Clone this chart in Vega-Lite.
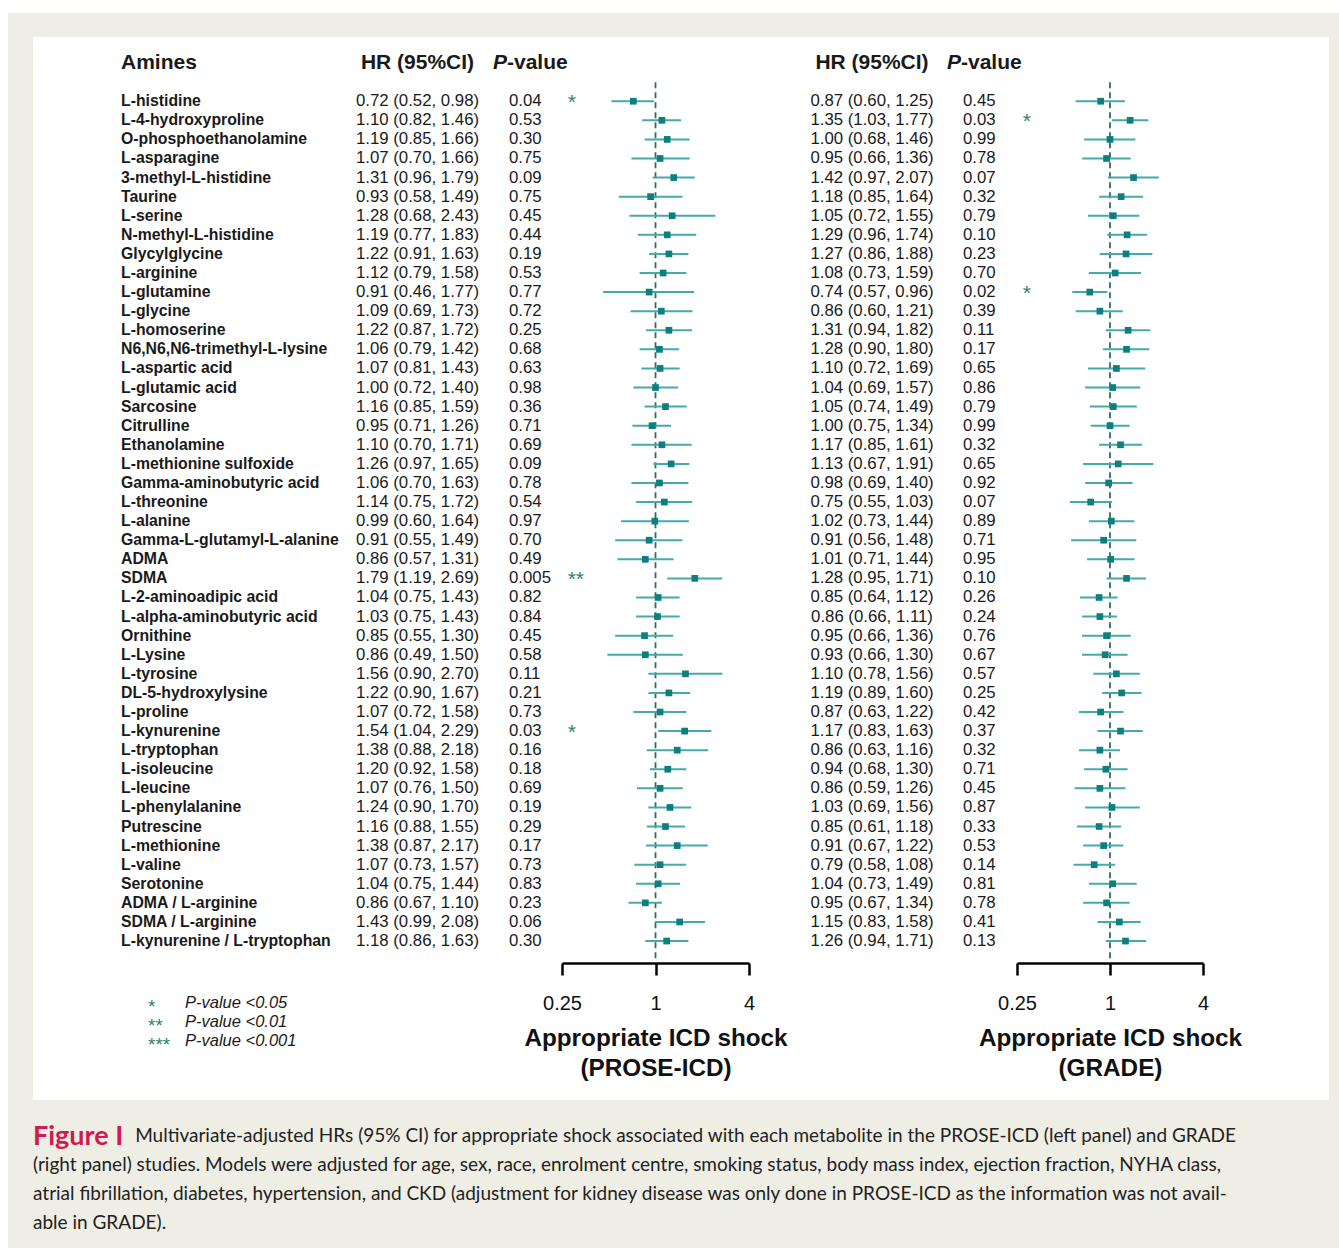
{
  "$schema": "https://vega.github.io/schema/vega-lite/v6.json",
  "background": "white",
  "padding": {"left": 8, "top": 13, "right": 0, "bottom": 0},
  "config": {"view": {"stroke": null}, "text": {"font": "Liberation Sans"}},
  "datasets": {
    "rows": [
      {"name":"L-histidine","txt1":"0.72 (0.52, 0.98)","est1":0.72,"lo1":0.52,"hi1":0.98,"p1":"0.04","sig1":"*","txt2":"0.87 (0.60, 1.25)","est2":0.87,"lo2":0.60,"hi2":1.25,"p2":"0.45","sig2":""},
      {"name":"L-4-hydroxyproline","txt1":"1.10 (0.82, 1.46)","est1":1.10,"lo1":0.82,"hi1":1.46,"p1":"0.53","sig1":"","txt2":"1.35 (1.03, 1.77)","est2":1.35,"lo2":1.03,"hi2":1.77,"p2":"0.03","sig2":"*"},
      {"name":"O-phosphoethanolamine","txt1":"1.19 (0.85, 1.66)","est1":1.19,"lo1":0.85,"hi1":1.66,"p1":"0.30","sig1":"","txt2":"1.00 (0.68, 1.46)","est2":1.00,"lo2":0.68,"hi2":1.46,"p2":"0.99","sig2":""},
      {"name":"L-asparagine","txt1":"1.07 (0.70, 1.66)","est1":1.07,"lo1":0.70,"hi1":1.66,"p1":"0.75","sig1":"","txt2":"0.95 (0.66, 1.36)","est2":0.95,"lo2":0.66,"hi2":1.36,"p2":"0.78","sig2":""},
      {"name":"3-methyl-L-histidine","txt1":"1.31 (0.96, 1.79)","est1":1.31,"lo1":0.96,"hi1":1.79,"p1":"0.09","sig1":"","txt2":"1.42 (0.97, 2.07)","est2":1.42,"lo2":0.97,"hi2":2.07,"p2":"0.07","sig2":""},
      {"name":"Taurine","txt1":"0.93 (0.58, 1.49)","est1":0.93,"lo1":0.58,"hi1":1.49,"p1":"0.75","sig1":"","txt2":"1.18 (0.85, 1.64)","est2":1.18,"lo2":0.85,"hi2":1.64,"p2":"0.32","sig2":""},
      {"name":"L-serine","txt1":"1.28 (0.68, 2.43)","est1":1.28,"lo1":0.68,"hi1":2.43,"p1":"0.45","sig1":"","txt2":"1.05 (0.72, 1.55)","est2":1.05,"lo2":0.72,"hi2":1.55,"p2":"0.79","sig2":""},
      {"name":"N-methyl-L-histidine","txt1":"1.19 (0.77, 1.83)","est1":1.19,"lo1":0.77,"hi1":1.83,"p1":"0.44","sig1":"","txt2":"1.29 (0.96, 1.74)","est2":1.29,"lo2":0.96,"hi2":1.74,"p2":"0.10","sig2":""},
      {"name":"Glycylglycine","txt1":"1.22 (0.91, 1.63)","est1":1.22,"lo1":0.91,"hi1":1.63,"p1":"0.19","sig1":"","txt2":"1.27 (0.86, 1.88)","est2":1.27,"lo2":0.86,"hi2":1.88,"p2":"0.23","sig2":""},
      {"name":"L-arginine","txt1":"1.12 (0.79, 1.58)","est1":1.12,"lo1":0.79,"hi1":1.58,"p1":"0.53","sig1":"","txt2":"1.08 (0.73, 1.59)","est2":1.08,"lo2":0.73,"hi2":1.59,"p2":"0.70","sig2":""},
      {"name":"L-glutamine","txt1":"0.91 (0.46, 1.77)","est1":0.91,"lo1":0.46,"hi1":1.77,"p1":"0.77","sig1":"","txt2":"0.74 (0.57, 0.96)","est2":0.74,"lo2":0.57,"hi2":0.96,"p2":"0.02","sig2":"*"},
      {"name":"L-glycine","txt1":"1.09 (0.69, 1.73)","est1":1.09,"lo1":0.69,"hi1":1.73,"p1":"0.72","sig1":"","txt2":"0.86 (0.60, 1.21)","est2":0.86,"lo2":0.60,"hi2":1.21,"p2":"0.39","sig2":""},
      {"name":"L-homoserine","txt1":"1.22 (0.87, 1.72)","est1":1.22,"lo1":0.87,"hi1":1.72,"p1":"0.25","sig1":"","txt2":"1.31 (0.94, 1.82)","est2":1.31,"lo2":0.94,"hi2":1.82,"p2":"0.11","sig2":""},
      {"name":"N6,N6,N6-trimethyl-L-lysine","txt1":"1.06 (0.79, 1.42)","est1":1.06,"lo1":0.79,"hi1":1.42,"p1":"0.68","sig1":"","txt2":"1.28 (0.90, 1.80)","est2":1.28,"lo2":0.90,"hi2":1.80,"p2":"0.17","sig2":""},
      {"name":"L-aspartic acid","txt1":"1.07 (0.81, 1.43)","est1":1.07,"lo1":0.81,"hi1":1.43,"p1":"0.63","sig1":"","txt2":"1.10 (0.72, 1.69)","est2":1.10,"lo2":0.72,"hi2":1.69,"p2":"0.65","sig2":""},
      {"name":"L-glutamic acid","txt1":"1.00 (0.72, 1.40)","est1":1.00,"lo1":0.72,"hi1":1.40,"p1":"0.98","sig1":"","txt2":"1.04 (0.69, 1.57)","est2":1.04,"lo2":0.69,"hi2":1.57,"p2":"0.86","sig2":""},
      {"name":"Sarcosine","txt1":"1.16 (0.85, 1.59)","est1":1.16,"lo1":0.85,"hi1":1.59,"p1":"0.36","sig1":"","txt2":"1.05 (0.74, 1.49)","est2":1.05,"lo2":0.74,"hi2":1.49,"p2":"0.79","sig2":""},
      {"name":"Citrulline","txt1":"0.95 (0.71, 1.26)","est1":0.95,"lo1":0.71,"hi1":1.26,"p1":"0.71","sig1":"","txt2":"1.00 (0.75, 1.34)","est2":1.00,"lo2":0.75,"hi2":1.34,"p2":"0.99","sig2":""},
      {"name":"Ethanolamine","txt1":"1.10 (0.70, 1.71)","est1":1.10,"lo1":0.70,"hi1":1.71,"p1":"0.69","sig1":"","txt2":"1.17 (0.85, 1.61)","est2":1.17,"lo2":0.85,"hi2":1.61,"p2":"0.32","sig2":""},
      {"name":"L-methionine sulfoxide","txt1":"1.26 (0.97, 1.65)","est1":1.26,"lo1":0.97,"hi1":1.65,"p1":"0.09","sig1":"","txt2":"1.13 (0.67, 1.91)","est2":1.13,"lo2":0.67,"hi2":1.91,"p2":"0.65","sig2":""},
      {"name":"Gamma-aminobutyric acid","txt1":"1.06 (0.70, 1.63)","est1":1.06,"lo1":0.70,"hi1":1.63,"p1":"0.78","sig1":"","txt2":"0.98 (0.69, 1.40)","est2":0.98,"lo2":0.69,"hi2":1.40,"p2":"0.92","sig2":""},
      {"name":"L-threonine","txt1":"1.14 (0.75, 1.72)","est1":1.14,"lo1":0.75,"hi1":1.72,"p1":"0.54","sig1":"","txt2":"0.75 (0.55, 1.03)","est2":0.75,"lo2":0.55,"hi2":1.03,"p2":"0.07","sig2":""},
      {"name":"L-alanine","txt1":"0.99 (0.60, 1.64)","est1":0.99,"lo1":0.60,"hi1":1.64,"p1":"0.97","sig1":"","txt2":"1.02 (0.73, 1.44)","est2":1.02,"lo2":0.73,"hi2":1.44,"p2":"0.89","sig2":""},
      {"name":"Gamma-L-glutamyl-L-alanine","txt1":"0.91 (0.55, 1.49)","est1":0.91,"lo1":0.55,"hi1":1.49,"p1":"0.70","sig1":"","txt2":"0.91 (0.56, 1.48)","est2":0.91,"lo2":0.56,"hi2":1.48,"p2":"0.71","sig2":""},
      {"name":"ADMA","txt1":"0.86 (0.57, 1.31)","est1":0.86,"lo1":0.57,"hi1":1.31,"p1":"0.49","sig1":"","txt2":"1.01 (0.71, 1.44)","est2":1.01,"lo2":0.71,"hi2":1.44,"p2":"0.95","sig2":""},
      {"name":"SDMA","txt1":"1.79 (1.19, 2.69)","est1":1.79,"lo1":1.19,"hi1":2.69,"p1":"0.005","sig1":"**","txt2":"1.28 (0.95, 1.71)","est2":1.28,"lo2":0.95,"hi2":1.71,"p2":"0.10","sig2":""},
      {"name":"L-2-aminoadipic acid","txt1":"1.04 (0.75, 1.43)","est1":1.04,"lo1":0.75,"hi1":1.43,"p1":"0.82","sig1":"","txt2":"0.85 (0.64, 1.12)","est2":0.85,"lo2":0.64,"hi2":1.12,"p2":"0.26","sig2":""},
      {"name":"L-alpha-aminobutyric acid","txt1":"1.03 (0.75, 1.43)","est1":1.03,"lo1":0.75,"hi1":1.43,"p1":"0.84","sig1":"","txt2":"0.86 (0.66, 1.11)","est2":0.86,"lo2":0.66,"hi2":1.11,"p2":"0.24","sig2":""},
      {"name":"Ornithine","txt1":"0.85 (0.55, 1.30)","est1":0.85,"lo1":0.55,"hi1":1.30,"p1":"0.45","sig1":"","txt2":"0.95 (0.66, 1.36)","est2":0.95,"lo2":0.66,"hi2":1.36,"p2":"0.76","sig2":""},
      {"name":"L-Lysine","txt1":"0.86 (0.49, 1.50)","est1":0.86,"lo1":0.49,"hi1":1.50,"p1":"0.58","sig1":"","txt2":"0.93 (0.66, 1.30)","est2":0.93,"lo2":0.66,"hi2":1.30,"p2":"0.67","sig2":""},
      {"name":"L-tyrosine","txt1":"1.56 (0.90, 2.70)","est1":1.56,"lo1":0.90,"hi1":2.70,"p1":"0.11","sig1":"","txt2":"1.10 (0.78, 1.56)","est2":1.10,"lo2":0.78,"hi2":1.56,"p2":"0.57","sig2":""},
      {"name":"DL-5-hydroxylysine","txt1":"1.22 (0.90, 1.67)","est1":1.22,"lo1":0.90,"hi1":1.67,"p1":"0.21","sig1":"","txt2":"1.19 (0.89, 1.60)","est2":1.19,"lo2":0.89,"hi2":1.60,"p2":"0.25","sig2":""},
      {"name":"L-proline","txt1":"1.07 (0.72, 1.58)","est1":1.07,"lo1":0.72,"hi1":1.58,"p1":"0.73","sig1":"","txt2":"0.87 (0.63, 1.22)","est2":0.87,"lo2":0.63,"hi2":1.22,"p2":"0.42","sig2":""},
      {"name":"L-kynurenine","txt1":"1.54 (1.04, 2.29)","est1":1.54,"lo1":1.04,"hi1":2.29,"p1":"0.03","sig1":"*","txt2":"1.17 (0.83, 1.63)","est2":1.17,"lo2":0.83,"hi2":1.63,"p2":"0.37","sig2":""},
      {"name":"L-tryptophan","txt1":"1.38 (0.88, 2.18)","est1":1.38,"lo1":0.88,"hi1":2.18,"p1":"0.16","sig1":"","txt2":"0.86 (0.63, 1.16)","est2":0.86,"lo2":0.63,"hi2":1.16,"p2":"0.32","sig2":""},
      {"name":"L-isoleucine","txt1":"1.20 (0.92, 1.58)","est1":1.20,"lo1":0.92,"hi1":1.58,"p1":"0.18","sig1":"","txt2":"0.94 (0.68, 1.30)","est2":0.94,"lo2":0.68,"hi2":1.30,"p2":"0.71","sig2":""},
      {"name":"L-leucine","txt1":"1.07 (0.76, 1.50)","est1":1.07,"lo1":0.76,"hi1":1.50,"p1":"0.69","sig1":"","txt2":"0.86 (0.59, 1.26)","est2":0.86,"lo2":0.59,"hi2":1.26,"p2":"0.45","sig2":""},
      {"name":"L-phenylalanine","txt1":"1.24 (0.90, 1.70)","est1":1.24,"lo1":0.90,"hi1":1.70,"p1":"0.19","sig1":"","txt2":"1.03 (0.69, 1.56)","est2":1.03,"lo2":0.69,"hi2":1.56,"p2":"0.87","sig2":""},
      {"name":"Putrescine","txt1":"1.16 (0.88, 1.55)","est1":1.16,"lo1":0.88,"hi1":1.55,"p1":"0.29","sig1":"","txt2":"0.85 (0.61, 1.18)","est2":0.85,"lo2":0.61,"hi2":1.18,"p2":"0.33","sig2":""},
      {"name":"L-methionine","txt1":"1.38 (0.87, 2.17)","est1":1.38,"lo1":0.87,"hi1":2.17,"p1":"0.17","sig1":"","txt2":"0.91 (0.67, 1.22)","est2":0.91,"lo2":0.67,"hi2":1.22,"p2":"0.53","sig2":""},
      {"name":"L-valine","txt1":"1.07 (0.73, 1.57)","est1":1.07,"lo1":0.73,"hi1":1.57,"p1":"0.73","sig1":"","txt2":"0.79 (0.58, 1.08)","est2":0.79,"lo2":0.58,"hi2":1.08,"p2":"0.14","sig2":""},
      {"name":"Serotonine","txt1":"1.04 (0.75, 1.44)","est1":1.04,"lo1":0.75,"hi1":1.44,"p1":"0.83","sig1":"","txt2":"1.04 (0.73, 1.49)","est2":1.04,"lo2":0.73,"hi2":1.49,"p2":"0.81","sig2":""},
      {"name":"ADMA / L-arginine","txt1":"0.86 (0.67, 1.10)","est1":0.86,"lo1":0.67,"hi1":1.10,"p1":"0.23","sig1":"","txt2":"0.95 (0.67, 1.34)","est2":0.95,"lo2":0.67,"hi2":1.34,"p2":"0.78","sig2":""},
      {"name":"SDMA / L-arginine","txt1":"1.43 (0.99, 2.08)","est1":1.43,"lo1":0.99,"hi1":2.08,"p1":"0.06","sig1":"","txt2":"1.15 (0.83, 1.58)","est2":1.15,"lo2":0.83,"hi2":1.58,"p2":"0.41","sig2":""},
      {"name":"L-kynurenine / L-tryptophan","txt1":"1.18 (0.86, 1.63)","est1":1.18,"lo1":0.86,"hi1":1.63,"p1":"0.30","sig1":"","txt2":"1.26 (0.94, 1.71)","est2":1.26,"lo2":0.94,"hi2":1.71,"p2":"0.13","sig2":""}
    ],
    "legend": [
      {"key":"leg1","stars":"*","label":"P-value <0.05"},
      {"key":"leg2","stars":"**","label":"P-value <0.01"},
      {"key":"leg3","stars":"***","label":"P-value <0.001"}
    ]
  },
  "data": {"name": "rows"},
  "spacing": 0,
  "bounds": "full",
  "vconcat": [
    {"width": 1331, "height": 24, "view": {"fill": "#efeee5"}, "data": {"values": []}, "mark": "text"},
    {
      "spacing": 0,
      "bounds": "flush",
      "resolve": {"scale": {"x": "independent", "y": "independent"}},
      "hconcat": [
        {"width": 25, "height": 1063, "view": {"fill": "#efeee5"}, "data": {"values": []}, "mark": "text"},
        {
          "width": 176, "height": 1063,
          "layer": [
            {"mark": {"type": "text", "align": "left", "baseline": "middle", "font": "Liberation Sans", "fontWeight": "bold", "fontSize": 15.8, "color": "#1a1a1a"},
             "encoding": {"y": {"field": "name", "type": "nominal", "axis": null, "scale": {"type": "point", "padding": 0.847, "align": 0.806, "domain": ["__hdr","__gap","L-histidine","L-4-hydroxyproline","O-phosphoethanolamine","L-asparagine","3-methyl-L-histidine","Taurine","L-serine","N-methyl-L-histidine","Glycylglycine","L-arginine","L-glutamine","L-glycine","L-homoserine","N6,N6,N6-trimethyl-L-lysine","L-aspartic acid","L-glutamic acid","Sarcosine","Citrulline","Ethanolamine","L-methionine sulfoxide","Gamma-aminobutyric acid","L-threonine","L-alanine","Gamma-L-glutamyl-L-alanine","ADMA","SDMA","L-2-aminoadipic acid","L-alpha-aminobutyric acid","Ornithine","L-Lysine","L-tyrosine","DL-5-hydroxylysine","L-proline","L-kynurenine","L-tryptophan","L-isoleucine","L-leucine","L-phenylalanine","Putrescine","L-methionine","L-valine","Serotonine","ADMA / L-arginine","SDMA / L-arginine","L-kynurenine / L-tryptophan","__axis","__b2","leg1","leg2","leg3","__e1","__e2","__e3"]}},
                          "text": {"field": "name"}}},
            {"data": {"values": [{"h": "Amines"}]},
             "mark": {"type": "text", "align": "left", "baseline": "middle", "font": "Liberation Sans", "fontWeight": "bold", "fontSize": 21, "color": "#1a1a1a"},
             "encoding": {"y": {"datum": "__hdr", "type": "nominal"}, "text": {"field": "h"}}},
            {"data": {"name": "legend"},
             "mark": {"type": "text", "align": "left", "baseline": "middle", "dx": 27, "dy": 9, "font": "Liberation Sans", "fontSize": 19, "color": "#2f8565"},
             "encoding": {"y": {"field": "key", "type": "nominal"}, "text": {"field": "stars"}}},
            {"data": {"name": "legend"},
             "mark": {"type": "text", "align": "left", "baseline": "middle", "dx": 64, "dy": 5, "font": "Liberation Sans", "fontStyle": "italic", "fontSize": 16.5, "color": "#1a1a1a"},
             "encoding": {"y": {"field": "key", "type": "nominal"}, "text": {"field": "label"}}}
          ]
        },
        {"width": 170, "height": 1063, "data": {"values": []}, "mark": "text"},
        {
          "width": 77, "height": 1063,
          "layer": [
            {"mark": {"type": "text", "align": "center", "baseline": "middle", "font": "Liberation Sans", "fontSize": 16.8, "color": "#1a1a1a"},
             "encoding": {"y": {"field": "name", "type": "nominal", "axis": null, "scale": {"type": "point", "padding": 0.847, "align": 0.806, "domain": ["__hdr","__gap","L-histidine","L-4-hydroxyproline","O-phosphoethanolamine","L-asparagine","3-methyl-L-histidine","Taurine","L-serine","N-methyl-L-histidine","Glycylglycine","L-arginine","L-glutamine","L-glycine","L-homoserine","N6,N6,N6-trimethyl-L-lysine","L-aspartic acid","L-glutamic acid","Sarcosine","Citrulline","Ethanolamine","L-methionine sulfoxide","Gamma-aminobutyric acid","L-threonine","L-alanine","Gamma-L-glutamyl-L-alanine","ADMA","SDMA","L-2-aminoadipic acid","L-alpha-aminobutyric acid","Ornithine","L-Lysine","L-tyrosine","DL-5-hydroxylysine","L-proline","L-kynurenine","L-tryptophan","L-isoleucine","L-leucine","L-phenylalanine","Putrescine","L-methionine","L-valine","Serotonine","ADMA / L-arginine","SDMA / L-arginine","L-kynurenine / L-tryptophan","__axis","__b2","leg1","leg2","leg3","__e1","__e2","__e3"]}},
                          "text": {"field": "txt1"}}},
            {"data": {"values": [{"h": "HR (95%CI)"}]},
             "mark": {"type": "text", "align": "center", "baseline": "middle", "font": "Liberation Sans", "fontWeight": "bold", "fontSize": 21, "color": "#1a1a1a"},
             "encoding": {"y": {"datum": "__hdr", "type": "nominal"}, "text": {"field": "h"}}}
          ]
        },
        {
          "width": 106, "height": 1063,
          "layer": [
            {"mark": {"type": "text", "align": "left", "baseline": "middle", "font": "Liberation Sans", "fontSize": 16.8, "color": "#1a1a1a"},
             "encoding": {"y": {"field": "name", "type": "nominal", "axis": null, "scale": {"type": "point", "padding": 0.847, "align": 0.806, "domain": ["__hdr","__gap","L-histidine","L-4-hydroxyproline","O-phosphoethanolamine","L-asparagine","3-methyl-L-histidine","Taurine","L-serine","N-methyl-L-histidine","Glycylglycine","L-arginine","L-glutamine","L-glycine","L-homoserine","N6,N6,N6-trimethyl-L-lysine","L-aspartic acid","L-glutamic acid","Sarcosine","Citrulline","Ethanolamine","L-methionine sulfoxide","Gamma-aminobutyric acid","L-threonine","L-alanine","Gamma-L-glutamyl-L-alanine","ADMA","SDMA","L-2-aminoadipic acid","L-alpha-aminobutyric acid","Ornithine","L-Lysine","L-tyrosine","DL-5-hydroxylysine","L-proline","L-kynurenine","L-tryptophan","L-isoleucine","L-leucine","L-phenylalanine","Putrescine","L-methionine","L-valine","Serotonine","ADMA / L-arginine","SDMA / L-arginine","L-kynurenine / L-tryptophan","__axis","__b2","leg1","leg2","leg3","__e1","__e2","__e3"]}},
                          "text": {"field": "p1"}}},
            {"data": {"values": [{"h": "P"}]},
             "mark": {"type": "text", "align": "right", "baseline": "middle", "dx": -2, "font": "Liberation Sans", "fontWeight": "bold", "fontStyle": "italic", "fontSize": 21, "color": "#1a1a1a"},
             "encoding": {"y": {"datum": "__hdr", "type": "nominal"}, "text": {"field": "h"}}},
            {"data": {"values": [{"h": "-value"}]},
             "mark": {"type": "text", "align": "left", "baseline": "middle", "dx": -2, "font": "Liberation Sans", "fontWeight": "bold", "fontSize": 21, "color": "#1a1a1a"},
             "encoding": {"y": {"datum": "__hdr", "type": "nominal"}, "text": {"field": "h"}}}
          ]
        },
        {
          "width": 187, "height": 1063,
          "layer": [
            {"data": {"values": [{"ref": 1}]},
             "mark": {"type": "rule", "strokeDash": [6, 4], "strokeWidth": 1.8, "color": "#2e6e5e", "y2Offset": 3},
             "encoding": {
               "x": {"field": "ref", "type": "quantitative", "scale": {"type": "log", "domain": [0.25, 4], "nice": false},
                     "axis": {"values": [0.25, 1, 4], "format": "~g", "orient": "bottom", "offset": -137, "grid": false, "domainColor": "#000", "domainWidth": 2.5, "tickColor": "#000", "tickWidth": 2.5, "tickSize": 12, "labelFont": "Liberation Sans", "labelFontSize": 20, "labelColor": "#111", "labelPadding": 18, "labelFlush": false, "labelOverlap": false, "title": ["Appropriate ICD shock", "(PROSE-ICD)"], "titleFont": "Liberation Sans", "titleFontSize": 24.3, "titleFontWeight": "bold", "titleColor": "#111", "titlePadding": 13, "titleLineHeight": 30}},
               "y": {"datum": "__gap", "type": "nominal", "axis": null, "scale": {"type": "point", "padding": 0.847, "align": 0.806, "domain": ["__hdr","__gap","L-histidine","L-4-hydroxyproline","O-phosphoethanolamine","L-asparagine","3-methyl-L-histidine","Taurine","L-serine","N-methyl-L-histidine","Glycylglycine","L-arginine","L-glutamine","L-glycine","L-homoserine","N6,N6,N6-trimethyl-L-lysine","L-aspartic acid","L-glutamic acid","Sarcosine","Citrulline","Ethanolamine","L-methionine sulfoxide","Gamma-aminobutyric acid","L-threonine","L-alanine","Gamma-L-glutamyl-L-alanine","ADMA","SDMA","L-2-aminoadipic acid","L-alpha-aminobutyric acid","Ornithine","L-Lysine","L-tyrosine","DL-5-hydroxylysine","L-proline","L-kynurenine","L-tryptophan","L-isoleucine","L-leucine","L-phenylalanine","Putrescine","L-methionine","L-valine","Serotonine","ADMA / L-arginine","SDMA / L-arginine","L-kynurenine / L-tryptophan","__axis","__b2","leg1","leg2","leg3","__e1","__e2","__e3"]}},
               "y2": {"datum": "__axis"}}},
            {"mark": {"type": "rule", "strokeWidth": 2, "color": "#45aaab"},
             "encoding": {"x": {"field": "lo1", "type": "quantitative"}, "x2": {"field": "hi1"}, "y": {"field": "name", "type": "nominal"}}},
            {"mark": {"type": "point", "shape": "square", "filled": true, "size": 45, "opacity": 1, "color": "#0e7f80"},
             "encoding": {"x": {"field": "est1", "type": "quantitative"}, "y": {"field": "name", "type": "nominal"}}},
            {"mark": {"type": "text", "align": "left", "baseline": "middle", "dy": 2, "font": "Liberation Sans", "fontSize": 21, "color": "#2f8565"},
             "encoding": {"x": {"datum": 0.272, "type": "quantitative"}, "y": {"field": "name", "type": "nominal"}, "text": {"field": "sig1"}}}
          ]
        },
        {"width": 86, "height": 1063, "data": {"values": []}, "mark": "text"},
        {
          "width": 74, "height": 1063,
          "layer": [
            {"mark": {"type": "text", "align": "center", "baseline": "middle", "font": "Liberation Sans", "fontSize": 16.8, "color": "#1a1a1a"},
             "encoding": {"y": {"field": "name", "type": "nominal", "axis": null, "scale": {"type": "point", "padding": 0.847, "align": 0.806, "domain": ["__hdr","__gap","L-histidine","L-4-hydroxyproline","O-phosphoethanolamine","L-asparagine","3-methyl-L-histidine","Taurine","L-serine","N-methyl-L-histidine","Glycylglycine","L-arginine","L-glutamine","L-glycine","L-homoserine","N6,N6,N6-trimethyl-L-lysine","L-aspartic acid","L-glutamic acid","Sarcosine","Citrulline","Ethanolamine","L-methionine sulfoxide","Gamma-aminobutyric acid","L-threonine","L-alanine","Gamma-L-glutamyl-L-alanine","ADMA","SDMA","L-2-aminoadipic acid","L-alpha-aminobutyric acid","Ornithine","L-Lysine","L-tyrosine","DL-5-hydroxylysine","L-proline","L-kynurenine","L-tryptophan","L-isoleucine","L-leucine","L-phenylalanine","Putrescine","L-methionine","L-valine","Serotonine","ADMA / L-arginine","SDMA / L-arginine","L-kynurenine / L-tryptophan","__axis","__b2","leg1","leg2","leg3","__e1","__e2","__e3"]}},
                          "text": {"field": "txt2"}}},
            {"data": {"values": [{"h": "HR (95%CI)"}]},
             "mark": {"type": "text", "align": "center", "baseline": "middle", "font": "Liberation Sans", "fontWeight": "bold", "fontSize": 21, "color": "#1a1a1a"},
             "encoding": {"y": {"datum": "__hdr", "type": "nominal"}, "text": {"field": "h"}}}
          ]
        },
        {
          "width": 108, "height": 1063,
          "layer": [
            {"mark": {"type": "text", "align": "left", "baseline": "middle", "font": "Liberation Sans", "fontSize": 16.8, "color": "#1a1a1a"},
             "encoding": {"y": {"field": "name", "type": "nominal", "axis": null, "scale": {"type": "point", "padding": 0.847, "align": 0.806, "domain": ["__hdr","__gap","L-histidine","L-4-hydroxyproline","O-phosphoethanolamine","L-asparagine","3-methyl-L-histidine","Taurine","L-serine","N-methyl-L-histidine","Glycylglycine","L-arginine","L-glutamine","L-glycine","L-homoserine","N6,N6,N6-trimethyl-L-lysine","L-aspartic acid","L-glutamic acid","Sarcosine","Citrulline","Ethanolamine","L-methionine sulfoxide","Gamma-aminobutyric acid","L-threonine","L-alanine","Gamma-L-glutamyl-L-alanine","ADMA","SDMA","L-2-aminoadipic acid","L-alpha-aminobutyric acid","Ornithine","L-Lysine","L-tyrosine","DL-5-hydroxylysine","L-proline","L-kynurenine","L-tryptophan","L-isoleucine","L-leucine","L-phenylalanine","Putrescine","L-methionine","L-valine","Serotonine","ADMA / L-arginine","SDMA / L-arginine","L-kynurenine / L-tryptophan","__axis","__b2","leg1","leg2","leg3","__e1","__e2","__e3"]}},
                          "text": {"field": "p2"}}},
            {"data": {"values": [{"h": "P"}]},
             "mark": {"type": "text", "align": "right", "baseline": "middle", "dx": -2, "font": "Liberation Sans", "fontWeight": "bold", "fontStyle": "italic", "fontSize": 21, "color": "#1a1a1a"},
             "encoding": {"y": {"datum": "__hdr", "type": "nominal"}, "text": {"field": "h"}}},
            {"data": {"values": [{"h": "-value"}]},
             "mark": {"type": "text", "align": "left", "baseline": "middle", "dx": -2, "font": "Liberation Sans", "fontWeight": "bold", "fontSize": 21, "color": "#1a1a1a"},
             "encoding": {"y": {"datum": "__hdr", "type": "nominal"}, "text": {"field": "h"}}}
          ]
        },
        {
          "width": 186, "height": 1063,
          "layer": [
            {"data": {"values": [{"ref": 1}]},
             "mark": {"type": "rule", "strokeDash": [6, 4], "strokeWidth": 1.8, "color": "#2e6e5e", "y2Offset": 3},
             "encoding": {
               "x": {"field": "ref", "type": "quantitative", "scale": {"type": "log", "domain": [0.25, 4], "nice": false},
                     "axis": {"values": [0.25, 1, 4], "format": "~g", "orient": "bottom", "offset": -137, "grid": false, "domainColor": "#000", "domainWidth": 2.5, "tickColor": "#000", "tickWidth": 2.5, "tickSize": 12, "labelFont": "Liberation Sans", "labelFontSize": 20, "labelColor": "#111", "labelPadding": 18, "labelFlush": false, "labelOverlap": false, "title": ["Appropriate ICD shock", "(GRADE)"], "titleFont": "Liberation Sans", "titleFontSize": 24.3, "titleFontWeight": "bold", "titleColor": "#111", "titlePadding": 13, "titleLineHeight": 30}},
               "y": {"datum": "__gap", "type": "nominal", "axis": null, "scale": {"type": "point", "padding": 0.847, "align": 0.806, "domain": ["__hdr","__gap","L-histidine","L-4-hydroxyproline","O-phosphoethanolamine","L-asparagine","3-methyl-L-histidine","Taurine","L-serine","N-methyl-L-histidine","Glycylglycine","L-arginine","L-glutamine","L-glycine","L-homoserine","N6,N6,N6-trimethyl-L-lysine","L-aspartic acid","L-glutamic acid","Sarcosine","Citrulline","Ethanolamine","L-methionine sulfoxide","Gamma-aminobutyric acid","L-threonine","L-alanine","Gamma-L-glutamyl-L-alanine","ADMA","SDMA","L-2-aminoadipic acid","L-alpha-aminobutyric acid","Ornithine","L-Lysine","L-tyrosine","DL-5-hydroxylysine","L-proline","L-kynurenine","L-tryptophan","L-isoleucine","L-leucine","L-phenylalanine","Putrescine","L-methionine","L-valine","Serotonine","ADMA / L-arginine","SDMA / L-arginine","L-kynurenine / L-tryptophan","__axis","__b2","leg1","leg2","leg3","__e1","__e2","__e3"]}},
               "y2": {"datum": "__axis"}}},
            {"mark": {"type": "rule", "strokeWidth": 2, "color": "#45aaab"},
             "encoding": {"x": {"field": "lo2", "type": "quantitative"}, "x2": {"field": "hi2"}, "y": {"field": "name", "type": "nominal"}}},
            {"mark": {"type": "point", "shape": "square", "filled": true, "size": 45, "opacity": 1, "color": "#0e7f80"},
             "encoding": {"x": {"field": "est2", "type": "quantitative"}, "y": {"field": "name", "type": "nominal"}}},
            {"mark": {"type": "text", "align": "left", "baseline": "middle", "dy": 2, "font": "Liberation Sans", "fontSize": 21, "color": "#2f8565"},
             "encoding": {"x": {"datum": 0.272, "type": "quantitative"}, "y": {"field": "name", "type": "nominal"}, "text": {"field": "sig2"}}}
          ]
        },
        {"width": 126, "height": 1063, "data": {"values": []}, "mark": "text"},
        {"width": 10, "height": 1063, "view": {"fill": "#efeee5"}, "data": {"values": []}, "mark": "text"}
      ]
    },
    {
      "width": 1331, "height": 148, "view": {"fill": "#efeee5"}, "data": {"values": []}, "mark": "text",
      "title": {
        "text": "Figure I",
        "subtitle": [
          "\u200b\u2003\u2003\u2003\u2003\u2003\u2003\u2003\u2009Multivariate-adjusted HRs (95% CI) for appropriate shock associated with each metabolite in the PROSE-ICD (left panel) and GRADE",
          "(right panel) studies. Models were adjusted for age, sex, race, enrolment centre, smoking status, body mass index, ejection fraction, NYHA class,",
          "atrial fibrillation, diabetes, hypertension, and CKD (adjustment for kidney disease was only done in PROSE-ICD as the information was not avail-",
          "able in GRADE)."
        ],
        "anchor": "start", "frame": "group", "orient": "top", "offset": -134, "dx": 25,
        "font": "Lato", "fontSize": 27, "fontWeight": "bold", "color": "#d31a4e",
        "subtitleFont": "Lato", "subtitleFontSize": 19, "subtitleColor": "#222", "subtitleLineHeight": 29, "subtitlePadding": -24
      }
    }
  ]
}
